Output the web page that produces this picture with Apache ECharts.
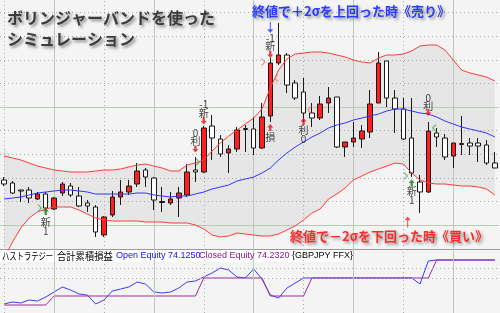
<!DOCTYPE html>
<html><head><meta charset="utf-8">
<script src="https://cdn.jsdelivr.net/npm/echarts@6/dist/echarts.min.js"></script>
<style>html,body{margin:0;padding:0;background:#f4f4f4}#c{width:500px;height:313px}</style>
</head><body><div id="c"></div>
<script>
// ---- data (price units: arbitrary chart units) ----
const days = ['1','2','3','4','5','6','7','8','9','10','11','12','13','14','15','16','17','18','19','20',
 '21','22','23','24','25','26','27','28','29','30','31','32','33','34','35','36','37','38','39','40',
 '41','42','43','44','45','46','47','48','49','50','51','52','53','54','55','56','57','58','59','60'];
const opens  = [70,67,60,60,51,56,41,57,64,54,47,43,15,35,53,58,66,80,72,48.5,47,52,55,80,78,124,111,97,101,121.5,121,102,134,187,195,167,158,137,132,147,153,103,108,111,118,147,189,152,141,112,68,58,117,112,94,106.5,107,107,105,87];
const closes = [66,57,59,52,56,42,52,66,55,44,44,18,33,53,58,64,79,73,50,47.5,51,57,78,78,122,112,96,101,120,120.5,102,133,187,195,165,152,137,132,146,152,103,108,112,119,146,187,152,141,111,77,58,119,113,93,107,105.5,104,104,87,82];
const lows   = [64,56,48,47,50,41,40,54,53,43,38,13,13,33,45,55,63,63,40,38,45,33,53,68,77,90,93,77,98,98,95,101,128,185,157,150,128,123,130,137,102,93,103,102,112,147,143,117,110,73,37,57,103,90,82,95,95,88,85,82];
const highs  = [73,69,60,63,58,58,53,68,67,63,50,45,34,59,70,70,87,82,73,63,58,63,86,93,124,135,115,105,123,125,133,147,192,227,197,170,172,147,154,163,153,108,128,125,160,198,189,160,152,152,75,128,122,116,107,134,112,112,110,98];
const bbUpper  = [94,92,90,87,84,82,80,79,78,78,78,79,80,80,81,83,85,86,84,82,79,79,85,87,90,99,107,114,120,126,132,141,162,180,191,196,197,198,198,197,195,193,190,188,187,192,195,195,196,199,204,205,205,200,190,180,177,175,173,169];
const bbMiddle = [51,52,53,55,57,58,59,60,60,59,58,56,56,56,56,56,57,57,55,54,53,54,54,56,58,61,63,65,69,71,73,77,82,90,97,103,108,113,117,122,125,127,130,132,134,136,139,141,141,139,137,136,133,129,126,123,121,119,117,113];
const bbLower  = [-8,8,22,32,38,41,43,43,43,40,36,32,30,29,29,29,29,28,28,28,27,27,27,25,21,15,13,14,17,16,15,14,14,16,20,24,30,37,41,51,56,62,70,74,78,81,84,87,86,77,70,67,66,66,65,64,64,63,61,55];
const openEquity   = [9,11,10,13,12,16,21,26,23,19,18,9,13,22,24,26,31,29,21,20,21,25,31,32,36,40,45,43,36,35,44,34,18,15,25,30,35,35,35,35,35,35,35,35,35,35,35,35,35,35,29,52,53,53,53,53,53,53,53,53];
const closedEquity = [8,8,8,8,8,8,17,17,17,17,17,17,17,17,17,17,17,17,17,17,17,17,17,17,35,35,35,35,35,35,35,35,17,17,17,17,17,35,35,35,35,35,35,35,35,35,35,35,35,35,35,35,53,53,53,53,53,53,53,53];
// trade annotations: [candle index, price, text]
const tradeLabels = [[5,28,'新'],[5,18.5,'1'],[23,117,'0'],[23,108.5,'利'],[24,145.5,'-1'],[24,136.5,'新'],
 [32,113,'損'],[36,119.5,'利'],[36,111,'0'],[32,211.5,'-1'],[32,203.5,'新'],[51,152,'0'],[51,144,'利'],[49,59,'新'],[49,50,'1']];
const signalArrows = [[5,38.5,'buy'],[23,101,'exitDown'],[24,129,'exitDown'],[32,122.5,'exitUp'],[36,128.5,'exitUp'],[32,195.5,'exitDown'],[51,137.5,'exitDown'],[49,67,'buy']];
const pointerArrows = [[32,222.5,'sell'],[49,28,'buyPtr']];
const fillMarks = [[5,42,'inBuy'],[24,88,'inBuy'],[32,188,'inSell'],[32,172,'outSell'],[36,140,'outSell'],[49,74,'inBuy'],[51,122,'outBuy']];
const priceGrid = [25,48.6,72.2,95.8,119.4,143,166.6,190.2,213.8,237.4];
const priceGridMajor = [25,143];
const timeGrid = [0,12,24,36,48];
const timeGridMajor = [6,18,30,42,54];

// ---- styles ----
const P = {
  up: 'path://M4,0 L8,4 L5.5,4 L5.5,8 L2.5,8 L2.5,4 L0,4 Z',
  down: 'path://M2.5,0 L5.5,0 L5.5,4 L8,4 L4,8 L0,4 L2.5,4 Z',
  thinDown: 'path://M2.5,0 L3.5,0 L3.5,8 L6,8 L3,12 L0,8 L2.5,8 Z',
  thinUp: 'path://M3,0 L6,4 L3.5,4 L3.5,12 L2.5,12 L2.5,4 L0,4 Z',
  chevR: 'path://M0,0 L2,0 L6,4 L2,8 L0,8 L4,4 Z',
  chevL: 'path://M6,0 L4,0 L0,4 L4,8 L6,8 L2,4 Z'
};
const arrowStyle = {buy:[P.up,'#0a7a0a'], exitDown:[P.down,'#e01010'], exitUp:[P.up,'#e01010']};
const ptrStyle = {sell:[P.thinDown,'#2233ff',0], buyPtr:[P.thinUp,'#ff2020',-4]};
const fillStyle = {inBuy:[P.chevR,'#5fa85f',-6], outBuy:[P.chevL,'#5fa85f',6], inSell:[P.chevR,'#f07070',-7], outSell:[P.chevL,'#f07070',6]};

const dotted = {color:'#a8a8a8', type:[1,3], width:1};
const solid = {color:'#b9cbb5', type:'solid', width:1};
function gridLines(){
  const d = [];
  priceGrid.forEach(v => d.push({yAxis:v, lineStyle: priceGridMajor.includes(v) ? solid : dotted}));
  timeGrid.forEach(i => d.push({xAxis:i, lineStyle: dotted}));
  timeGridMajor.forEach(i => d.push({xAxis:i, lineStyle: solid}));
  return d;
}
function lowerGridLines(){
  const d = [{yAxis:45, lineStyle:dotted},{yAxis:35, lineStyle:dotted}];
  timeGrid.forEach(i => d.push({xAxis:i, lineStyle: dotted}));
  timeGridMajor.forEach(i => d.push({xAxis:i, lineStyle: solid}));
  return d;
}

const chart = echarts.init(document.getElementById('c'), null, {renderer:'canvas'});
const cjk = '"Noto Sans CJK JP", sans-serif';
const lat = '"Liberation Sans", sans-serif';
const option = {
  backgroundColor: '#f4f4f4',
  animation: false,
  grid: [
    {left:-1, top:0, width:500, height:250},
    {left:-1, top:250, width:500, height:63}
  ],
  xAxis: [
    {type:'category', data:days, gridIndex:0, boundaryGap:true, show:false},
    {type:'category', data:days, gridIndex:1, boundaryGap:true, show:false}
  ],
  yAxis: [
    {type:'value', gridIndex:0, min:0, max:250, show:false},
    {type:'value', gridIndex:1, min:0, max:63, show:false}
  ],
  series: [
    {type:'line', z:1, data:bbLower, stack:'band', symbol:'none', silent:true, lineStyle:{opacity:0}},
    {type:'line', z:1, data:bbUpper.map((u,i)=>u-bbLower[i]), stack:'band', symbol:'none', silent:true,
      lineStyle:{opacity:0}, areaStyle:{color:'#e6e6e6', opacity:1}},
    {type:'line', z:2, data:[], silent:true, markLine:{silent:true, z:2, symbol:'none', label:{show:false}, data:gridLines()}},
    {type:'candlestick', z:3, data: opens.map((o,i)=>[o, closes[i], lows[i], highs[i]]), barWidth:5,
      itemStyle:{color:'#ff1f1f', color0:'#ffffff', borderColor:'#1a1a1a', borderColor0:'#1a1a1a', borderWidth:1}},
    {type:'line', z:4, data:bbUpper, symbol:'none', lineStyle:{color:'#ff3b3b', width:1}, silent:true},
    {type:'line', z:4, data:bbLower, symbol:'none', lineStyle:{color:'#ff3b3b', width:1}, silent:true},
    {type:'line', z:4, data:bbMiddle, symbol:'none', lineStyle:{color:'#3434ff', width:1}, silent:true},
    {type:'scatter', silent:true, z:5,
      data: fillMarks.map(m=>({value:[m[0],m[1]], symbol:fillStyle[m[2]][0], symbolSize:[5,7], symbolOffset:[fillStyle[m[2]][2],0], itemStyle:{color:fillStyle[m[2]][1]}}))},
    {type:'scatter', silent:true, z:5,
      data: signalArrows.map(m=>({value:[m[0],m[1]], symbol:arrowStyle[m[2]][0], symbolSize:[6,7], itemStyle:{color:arrowStyle[m[2]][1]}}))},
    {type:'scatter', silent:true, z:5,
      data: pointerArrows.map(m=>({value:[m[0],m[1]], symbol:ptrStyle[m[2]][0], symbolSize:[6,11], symbolOffset:[ptrStyle[m[2]][2],0], itemStyle:{color:ptrStyle[m[2]][1]}}))},
    {type:'scatter', silent:true, z:5, symbolSize:1, itemStyle:{color:'rgba(0,0,0,0)'},
      label:{show:true, position:'inside', color:'#111', fontSize:10, fontFamily:cjk, formatter:p=>p.data.t},
      data: tradeLabels.map(m=>({value:[m[0],m[1]], t:m[2]}))},
    // lower panel
    {type:'line', z:2, xAxisIndex:1, yAxisIndex:1, data:[], silent:true, markLine:{silent:true, symbol:'none', label:{show:false}, data:lowerGridLines()}},
    {type:'line', z:3, xAxisIndex:1, yAxisIndex:1, data:openEquity, symbol:'none', lineStyle:{color:'#3a3aff', width:1}, silent:true},
    {type:'line', z:4, xAxisIndex:1, yAxisIndex:1, data:closedEquity, symbol:'none', lineStyle:{color:'#9a2a9a', width:1}, silent:true}
  ],
  graphic: [
    {type:'rect', z:1, shape:{x:0,y:250,width:350,height:12}, style:{fill:'#ffffff'}},
    {type:'line', z:1, shape:{x1:0,y1:249.5,x2:500,y2:249.5}, style:{stroke:'#9a9a9a', lineWidth:1}},
    {type:'text', z:100, x:2, y:251, scaleX:0.73, style:{text:'ハストラテジー', font:'10px '+cjk, fill:'#000'}},
    {type:'text', z:100, x:57, y:251, scaleX:0.93, style:{text:'合計累積損益', font:'10px '+cjk, fill:'#000'}},
    {type:'text', z:100, x:116, y:251, style:{text:'Open Equity 74.1250', font:'9px '+lat, fill:'#1010ff'}},
    {type:'text', z:100, x:199, y:251, style:{text:'Closed Equity 74.2320', font:'9px '+lat, fill:'#8a1a8a'}},
    {type:'text', z:100, x:292, y:251, style:{text:'{GBPJPY FFX}', font:'9px '+lat, fill:'#000'}},
    {type:'text', z:100, x:7, y:7, style:{text:'ボリンジャーバンドを使った\nシミュレーション', font:'bold 16px '+cjk, lineHeight:21, fill:'#3c3c3c',
      textShadowColor:'rgba(0,0,0,0.45)', textShadowBlur:3, textShadowOffsetX:2, textShadowOffsetY:2}},
    {type:'text', z:100, x:252, y:5, style:{text:'終値で＋2σを上回った時《売り》', font:'bold 13px '+cjk, fill:'#2a3cff',
      textShadowColor:'rgba(0,0,0,0.4)', textShadowBlur:3, textShadowOffsetX:2, textShadowOffsetY:2}},
    {type:'text', z:100, x:290, y:230, style:{text:'終値で－2σを下回った時《買い》', font:'bold 13px '+cjk, fill:'#ff2a2a',
      textShadowColor:'rgba(0,0,0,0.4)', textShadowBlur:3, textShadowOffsetX:2, textShadowOffsetY:2}}
  ]
};
chart.setOption(option);
</script></body></html>
